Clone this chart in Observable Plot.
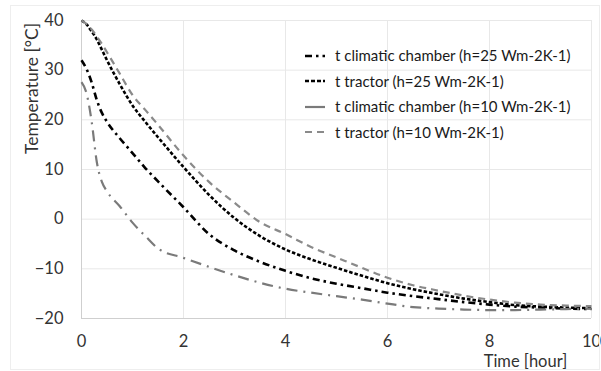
<!DOCTYPE html>
<html>
<head>
<meta charset="utf-8">
<script src="https://cdn.jsdelivr.net/npm/d3@7"></script>
<script src="https://cdn.jsdelivr.net/npm/@observablehq/plot@0.6"></script>
<style>
  html, body { margin: 0; padding: 0; background: #fff; }
  #wrap { position: relative; width: 601px; height: 371px; overflow: hidden; font-family: Lato, "Open Sans", sans-serif; }
  #border { position: absolute; left: 10px; top: 5px; width: 590px; height: 365px; border: 1px solid #eeeeee; box-sizing: border-box; pointer-events: none; }
  #legend { position: absolute; left: 304px; top: 43px; font-size: 15px; color: #1a1a1a; line-height: 25.5px; }
  #legend .row { display: flex; align-items: center; height: 25.5px; white-space: nowrap; }
  #legend svg { margin-right: 9px; }
</style>
</head>
<body>
<div id="wrap"><div id="border"></div><div id="chart"></div><div id="legend"></div></div>
<script>
const time = [0, 0.1, 0.2, 0.3, 0.4, 0.5, 0.75, 1, 1.25, 1.5, 2, 2.5, 3, 3.5, 4, 4.5, 5, 5.5, 6, 6.5, 7, 7.5, 8, 8.5, 9, 9.5, 10];
const chamber25 = [32, 30.2, 27.5, 24.0, 21.4, 19.6, 16.3, 13.3, 10.3, 7.6, 2.4, -3.0, -6.3, -8.6, -10.4, -11.9, -13.0, -13.9, -14.8, -15.5, -16.1, -16.7, -17.2, -17.6, -17.8, -18.0, -18.1];
const tractor25 = [40, 39.2, 37.8, 36.2, 34.1, 32.0, 27.2, 22.9, 19.6, 16.5, 10.5, 4.9, 0.2, -3.4, -6.1, -8.1, -9.8, -11.4, -12.9, -14.1, -15.1, -16.0, -16.7, -17.3, -17.6, -17.8, -17.9];
const chamber10 = [27.6, 25.3, 19.6, 11.5, 7.5, 5.6, 2.6, -0.7, -3.4, -5.9, -7.8, -9.6, -11.3, -12.8, -14.0, -14.8, -15.5, -16.2, -17.0, -17.7, -18.0, -18.2, -18.3, -18.3, -18.2, -18.1, -18.0];
const tractor10 = [40, 39.3, 38.2, 36.8, 35.3, 33.6, 29.3, 25.0, 22.0, 19.0, 12.8, 7.5, 3.3, -0.6, -3.0, -5.6, -7.7, -9.8, -11.8, -13.3, -14.4, -15.4, -16.2, -16.8, -17.2, -17.4, -17.5];
const seriesNames = [
  "t climatic chamber (h=25 Wm-2K-1)",
  "t tractor (h=25 Wm-2K-1)",
  "t climatic chamber (h=10 Wm-2K-1)",
  "t tractor (h=10 Wm-2K-1)"
];
const xTicks = [0, 2, 4, 6, 8, 10];
const yTicks = [-20, -10, 0, 10, 20, 30, 40];

const styles = [
  {stroke: "#000000", dash: "7,4,2.5,4", width: 2.6},
  {stroke: "#000000", dash: "3.5,2", width: 2.6},
  {stroke: "#7a7a7a", dash: "11,6,2,6", width: 2.2},
  {stroke: "#8a8a8a", dash: "7,5", width: 2.2}
];
const values = [chamber25, tractor25, chamber10, tractor10];
const lineMarks = values.map((vals, i) =>
  Plot.line(time.map((t, j) => ({t, v: vals[j]})), {
    x: "t", y: "v", curve: "monotone-x",
    stroke: styles[i].stroke, strokeWidth: styles[i].width,
    strokeDasharray: styles[i].dash, strokeLinecap: "butt"
  })
);

const plot = Plot.plot({
  width: 601, height: 371,
  marginLeft: 81, marginRight: 10, marginTop: 20, marginBottom: 53,
  style: {fontFamily: "Lato, 'Open Sans', sans-serif", fontSize: "16.5px", background: "transparent", color: "#333"},
  x: {domain: [0, 10], ticks: xTicks, tickSize: 0, tickPadding: 17, label: null},
  y: {domain: [-20, 40], ticks: yTicks, tickSize: 0, tickPadding: 18, label: null},
  marks: [
    Plot.gridX(xTicks, {stroke: "#e8e8e8", strokeOpacity: 1}),
    Plot.gridY(yTicks, {stroke: "#e8e8e8", strokeOpacity: 1}),
    Plot.ruleX([0], {stroke: "#cfcfcf"}),
    Plot.ruleY([-20], {stroke: "#cfcfcf"}),
    ...lineMarks,
    Plot.text(["Temperature [°C]"], {frameAnchor: "top-left", dx: -56, dy: 68, rotate: -90, textAnchor: "middle", fontSize: 17.5, fill: "#333"}),
    Plot.text(["Time [hour]"], {frameAnchor: "bottom-right", dx: -66, dy: 48, textAnchor: "middle", fontSize: 16.5, fill: "#333"})
  ]
});
document.getElementById("chart").appendChild(plot);

const legend = document.getElementById("legend");
const sampleDash = ["7,4,2.5,4", "4,2", "20,0", "7,5"];
seriesNames.forEach((name, i) => {
  const row = document.createElement("div");
  row.className = "row";
  row.innerHTML = `<svg width="22" height="8"><line x1="1" y1="4" x2="21" y2="4" stroke="${styles[i].stroke}" stroke-width="${styles[i].width}" stroke-dasharray="${sampleDash[i]}"/></svg><span>${name}</span>`;
  legend.appendChild(row);
});
</script>
</body>
</html>
